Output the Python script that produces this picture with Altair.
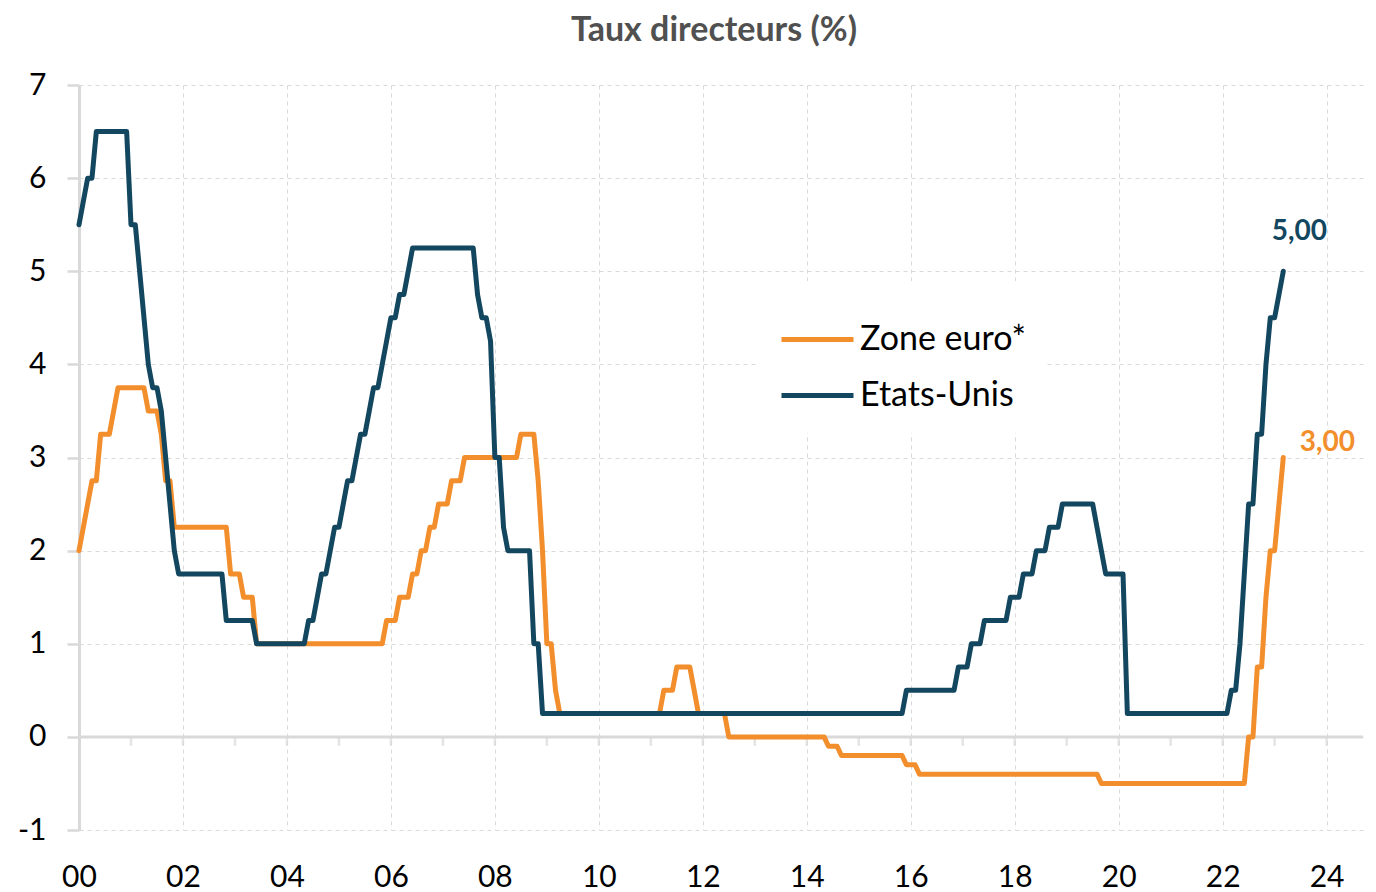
import altair as alt
import pandas as pd

# ---- data (end-of-month policy rates, change points only) ----
series_names = ["Zone euro*", "Etats-Unis"]

euro_change_ym = [
    "2000-01", "2000-02", "2000-03", "2000-04", "2000-06", "2000-09", "2000-10",
    "2001-05", "2001-08", "2001-09", "2001-11", "2002-12", "2003-03", "2003-06",
    "2005-12", "2006-03", "2006-06", "2006-08", "2006-10", "2006-12", "2007-03",
    "2007-06", "2008-07", "2008-11", "2008-12", "2009-01", "2009-03", "2009-04",
    "2011-04", "2011-07", "2011-11", "2011-12", "2012-07", "2014-06", "2014-09",
    "2015-12", "2016-03", "2019-09", "2022-07", "2022-09", "2022-11", "2022-12",
    "2023-02", "2023-03",
]
euro_change_val = [
    2.00, 2.25, 2.50, 2.75, 3.25, 3.50, 3.75,
    3.50, 3.25, 2.75, 2.25, 1.75, 1.50, 1.00,
    1.25, 1.50, 1.75, 2.00, 2.25, 2.50, 2.75,
    3.00, 3.25, 2.75, 2.00, 1.00, 0.50, 0.25,
    0.50, 0.75, 0.50, 0.25, 0.00, -0.10, -0.20,
    -0.30, -0.40, -0.50, 0.00, 0.75, 1.50, 2.00,
    2.50, 3.00,
]

us_change_ym = [
    "2000-01", "2000-02", "2000-03", "2000-05", "2001-01", "2001-03", "2001-04",
    "2001-05", "2001-06", "2001-08", "2001-09", "2001-10", "2001-11", "2001-12",
    "2002-11", "2003-06", "2004-06", "2004-08", "2004-09", "2004-11", "2004-12",
    "2005-02", "2005-03", "2005-05", "2005-06", "2005-08", "2005-09", "2005-11",
    "2005-12", "2006-01", "2006-03", "2006-05", "2006-06", "2007-09", "2007-10",
    "2007-12", "2008-01", "2008-03", "2008-04", "2008-10", "2008-12", "2015-12",
    "2016-12", "2017-03", "2017-06", "2017-12", "2018-03", "2018-06", "2018-09",
    "2018-12", "2019-08", "2019-09", "2019-10", "2020-03", "2022-03", "2022-05",
    "2022-06", "2022-07", "2022-09", "2022-11", "2022-12", "2023-02", "2023-03",
]
us_change_val = [
    5.50, 5.75, 6.00, 6.50, 5.50, 5.00, 4.50,
    4.00, 3.75, 3.50, 3.00, 2.50, 2.00, 1.75,
    1.25, 1.00, 1.25, 1.50, 1.75, 2.00, 2.25,
    2.50, 2.75, 3.00, 3.25, 3.50, 3.75, 4.00,
    4.25, 4.50, 4.75, 5.00, 5.25, 4.75, 4.50,
    4.25, 3.00, 2.25, 2.00, 1.00, 0.25, 0.50,
    0.75, 1.00, 1.25, 1.50, 1.75, 2.00, 2.25,
    2.50, 2.25, 2.00, 1.75, 0.25, 0.50, 1.00,
    1.75, 2.50, 3.25, 4.00, 4.50, 4.75, 5.00,
]

end_labels = ["3,00", "5,00"]
x_label_years = list(range(2000, 2025, 2))
tick_years = list(range(2001, 2025))
y_values = list(range(-1, 8))

ORANGE = "#F28E2C"
BLUE = "#13475F"
GRID = "#d9d9d9"
FONT = "Lato"


def monthly(change_ym, change_val, name):
    s = pd.Series(change_val, index=pd.PeriodIndex(change_ym, freq="M"))
    idx = pd.period_range(change_ym[0], change_ym[-1], freq="M")
    s = s.reindex(idx).ffill()
    return pd.DataFrame({
        "t": [p.year + (p.month - 1) / 12 for p in idx],
        "v": s.values,
        "serie": name,
    })


euro = monthly(euro_change_ym, euro_change_val, series_names[0])
us = monthly(us_change_ym, us_change_val, series_names[1])

x_scale = alt.Scale(domain=[2000, 2024.7], nice=False, zero=False)
y_scale = alt.Scale(domain=[-1, 7], nice=False, zero=False)
color_scale = alt.Scale(domain=series_names, range=[ORANGE, BLUE])

x_axis = alt.Axis(values=x_label_years, labelExpr="format(datum.value % 100, '02d')",
                  domain=False, ticks=False, tickSize=0, grid=True, gridDash=[4, 4],
                  gridColor=GRID, gridWidth=1, labelFont=FONT, labelFontSize=30,
                  labelColor="black", labelPadding=32, labelFlush=False,
                  labelOverlap=False, title=None)
y_axis = alt.Axis(values=y_values, labelExpr="toString(datum.value)",
                  domainColor=GRID, domainWidth=3, tickColor=GRID, tickWidth=2.5,
                  tickSize=12, grid=True, gridDash=[4, 4], gridColor=GRID, gridWidth=1,
                  labelFont=FONT, labelFontSize=30, labelColor="black",
                  labelPadding=21, title=None)

legend = alt.Legend(title=None, orient="none", legendX=680, legendY=196,
                    symbolType="stroke", symbolSize=5184, symbolStrokeWidth=5,
                    labelFont=FONT, labelFontSize=34, labelColor="black",
                    labelLimit=400, labelOffset=4, rowPadding=-20,
                    fillColor="white", padding=20)

zero_rule = alt.Chart(pd.DataFrame({"z": [0]})).mark_rule(
    color=GRID, strokeWidth=3).encode(y=alt.Y("z:Q", scale=y_scale, axis=y_axis))

ticks = alt.Chart(pd.DataFrame({"yr": tick_years, "z": 0})).mark_tick(
    orient="vertical", size=9, thickness=2.5, color=GRID, yOffset=4.5).encode(
    x=alt.X("yr:Q", scale=x_scale, axis=x_axis),
    y=alt.Y("z:Q", scale=y_scale),
)

line_kw = dict(strokeWidth=5, strokeCap="round", strokeJoin="round")

euro_line = alt.Chart(euro).mark_line(**line_kw).encode(
    x=alt.X("t:Q", scale=x_scale, axis=x_axis),
    y=alt.Y("v:Q", scale=y_scale, axis=y_axis),
    color=alt.Color("serie:N", scale=color_scale, legend=legend),
)
us_line = alt.Chart(us).mark_line(**line_kw).encode(
    x=alt.X("t:Q", scale=x_scale),
    y=alt.Y("v:Q", scale=y_scale),
    color=alt.Color("serie:N", scale=color_scale, legend=legend),
)

euro_end = euro.tail(1).assign(label=end_labels[0])
us_end = us.tail(1).assign(label=end_labels[1])

text_kw = dict(font=FONT, fontSize=28, fontWeight="bold", align="center", baseline="middle")
euro_txt = alt.Chart(euro_end).mark_text(color=ORANGE, dx=44, dy=-15, **text_kw).encode(
    x=alt.X("t:Q", scale=x_scale), y=alt.Y("v:Q", scale=y_scale), text="label:N")
us_txt = alt.Chart(us_end).mark_text(color=BLUE, dx=16, dy=-39, **text_kw).encode(
    x=alt.X("t:Q", scale=x_scale), y=alt.Y("v:Q", scale=y_scale), text="label:N")

chart = alt.layer(zero_rule, ticks, euro_line, us_line, euro_txt, us_txt).properties(
    width=1284, height=745,
    title=alt.TitleParams("Taux directeurs (%)", font=FONT, fontSize=34, fontWeight="bold",
                          color="#505050", anchor="middle", frame="group", offset=22, dx=-7),
    autosize=alt.AutoSizeParams(type="none"),
    padding={"left": 71, "top": 77, "right": 5, "bottom": 62},
).configure_view(stroke=None)

chart.save("out.html", embed_options={"renderer": "svg", "actions": False})
